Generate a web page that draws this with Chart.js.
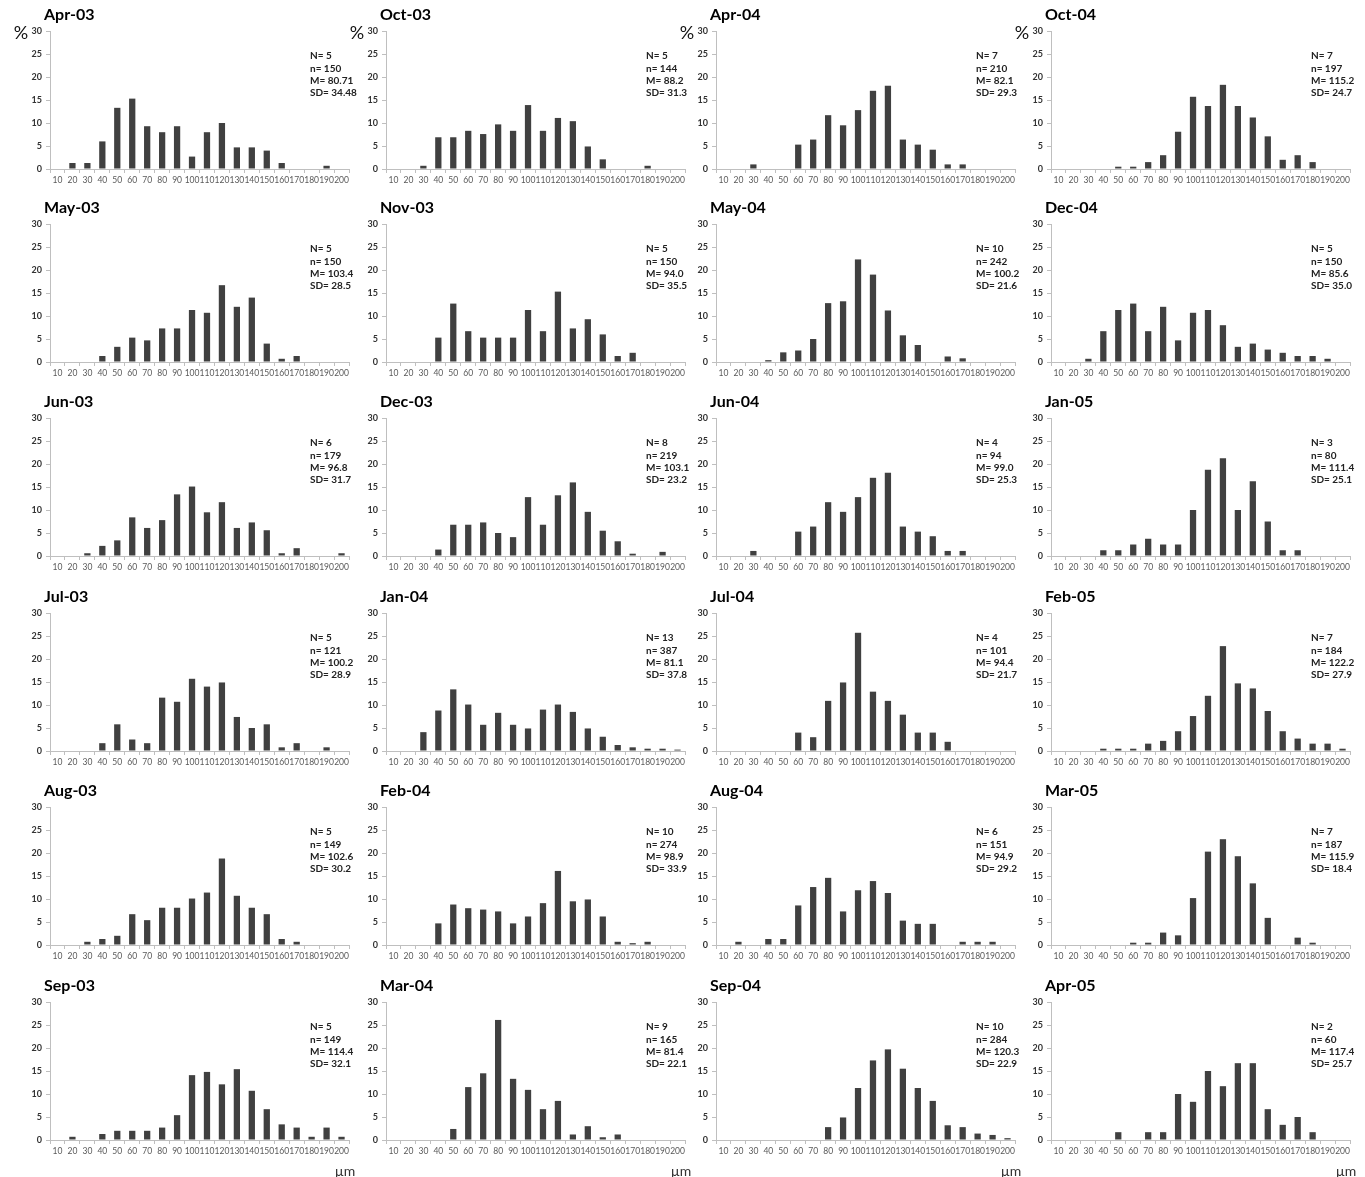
<!DOCTYPE html>
<html>
<head>
<meta charset="utf-8">
<script src="https://cdn.jsdelivr.net/npm/chart.js@4.4.1/dist/chart.umd.min.js"></script>
<style>
  body { margin: 0; background: #fff; width: 1365px; height: 1177px; position: relative; overflow: hidden; font-family: Lato, sans-serif; }
  canvas { position: absolute; }
</style>
</head>
<body>
<script>
// size classes (µm) on the x axis
const sizeBins = ['10', '20', '30', '40', '50', '60', '70', '80', '90', '100',
                  '110', '120', '130', '140', '150', '160', '170', '180', '190', '200'];

// percentage of individuals per size class, one array per sampling month
//            10   20   30    40    50    60    70    80    90   100   110   120   130   140   150   160  170  180  190  200
const apr03 = [0, 1.3, 1.3,  6.0, 13.3, 15.3,  9.3,  8.0,  9.3,  2.7,  8.0, 10.0,  4.7,  4.7,  4.0,  1.3,   0,   0, 0.7,   0];
const may03 = [0,   0,   0,  1.3,  3.3,  5.3,  4.7,  7.3,  7.3, 11.3, 10.7, 16.7, 12.0, 14.0,  4.0,  0.7, 1.3,   0,   0,   0];
const jun03 = [0,   0, 0.6,  2.2,  3.4,  8.4,  6.1,  7.8, 13.4, 15.1,  9.5, 11.7,  6.1,  7.3,  5.6,  0.6, 1.7,   0,   0, 0.6];
const jul03 = [0,   0,   0,  1.7,  5.8,  2.5,  1.7, 11.6, 10.7, 15.7, 14.0, 14.9,  7.4,  5.0,  5.8,  0.8, 1.7,   0, 0.8,   0];
const aug03 = [0,   0, 0.7,  1.3,  2.0,  6.7,  5.4,  8.1,  8.1, 10.1, 11.4, 18.8, 10.7,  8.1,  6.7,  1.3, 0.7,   0,   0,   0];
const sep03 = [0, 0.7,   0,  1.3,  2.0,  2.0,  2.0,  2.7,  5.4, 14.1, 14.8, 12.1, 15.4, 10.7,  6.7,  3.4, 2.7, 0.7, 2.7, 0.7];
const oct03 = [0,   0, 0.7,  6.9,  6.9,  8.3,  7.6,  9.7,  8.3, 13.9,  8.3, 11.1, 10.4,  4.9,  2.1,    0,   0, 0.7,   0,   0];
const nov03 = [0,   0,   0,  5.3, 12.7,  6.7,  5.3,  5.3,  5.3, 11.3,  6.7, 15.3,  7.3,  9.3,  6.0,  1.3, 2.0,   0,   0,   0];
const dec03 = [0,   0,   0,  1.4,  6.8,  6.8,  7.3,  5.0,  4.1, 12.8,  6.8, 13.2, 16.0,  9.6,  5.5,  3.2, 0.5,   0, 0.9,   0];
const jan04 = [0,   0, 4.1,  8.8, 13.4, 10.1,  5.7,  8.3,  5.7,  4.9,  9.0, 10.1,  8.5,  4.9,  3.1,  1.3, 0.8, 0.5, 0.5, 0.3];
const feb04 = [0,   0,   0,  4.7,  8.8,  8.0,  7.7,  7.3,  4.7,  6.2,  9.1, 16.1,  9.5,  9.9,  6.2,  0.7, 0.4, 0.7,   0,   0];
const mar04 = [0,   0,   0,    0,  2.4, 11.5, 14.5, 26.1, 13.3, 10.9,  6.7,  8.5,  1.2,  3.0,  0.6,  1.2,   0,   0,   0,   0];
const apr04 = [0,   0, 1.0,    0,    0,  5.3,  6.4, 11.7,  9.5, 12.8, 17.0, 18.1,  6.4,  5.3,  4.2,  1.0, 1.0,   0,   0,   0];
const may04 = [0,   0,   0,  0.4,  2.1,  2.5,  5.0, 12.8, 13.2, 22.3, 19.0, 11.2,  5.8,  3.7,    0,  1.2, 0.8,   0,   0,   0];
const jun04 = [0,   0, 1.1,    0,    0,  5.3,  6.4, 11.7,  9.6, 12.8, 17.0, 18.1,  6.4,  5.3,  4.3,  1.1, 1.1,   0,   0,   0];
const jul04 = [0,   0,   0,    0,    0,  4.0,  3.0, 10.9, 14.9, 25.7, 12.9, 10.9,  7.9,  4.0,  4.0,  2.0,   0,   0,   0,   0];
const aug04 = [0, 0.7,   0,  1.3,  1.3,  8.6, 12.6, 14.6,  7.3, 11.9, 13.9, 11.3,  5.3,  4.6,  4.6,    0, 0.7, 0.7, 0.7,   0];
const sep04 = [0,   0,   0,    0,    0,    0,    0,  2.8,  4.9, 11.3, 17.3, 19.7, 15.5, 11.3,  8.5,  3.2, 2.8, 1.4, 1.1, 0.4];
const oct04 = [0,   0,   0,    0,  0.5,  0.5,  1.5,  3.0,  8.1, 15.7, 13.7, 18.3, 13.7, 11.2,  7.1,  2.0, 3.0, 1.5,   0,   0];
const dec04 = [0,   0, 0.7,  6.7, 11.3, 12.7,  6.7, 12.0,  4.7, 10.7, 11.3,  8.0,  3.3,  4.0,  2.7,  2.0, 1.3, 1.3, 0.7,   0];
const jan05 = [0,   0,   0, 1.25, 1.25,  2.5, 3.75,  2.5,  2.5, 10.0, 18.75, 21.25, 10.0, 16.25, 7.5, 1.25, 1.25, 0,  0,   0];
const feb05 = [0,   0,   0,  0.5,  0.5,  0.5,  1.6,  2.2,  4.3,  7.6, 12.0, 22.8, 14.7, 13.6,  8.7,  4.3, 2.7, 1.6, 1.6, 0.5];
const mar05 = [0,   0,   0,    0,    0,  0.5,  0.5,  2.7,  2.1, 10.2, 20.3, 23.0, 19.3, 13.4,  5.9,    0, 1.6, 0.5,   0,   0];
const apr05 = [0,   0,   0,    0,  1.7,    0,  1.7,  1.7, 10.0,  8.3, 15.0, 11.7, 16.7, 16.7,  6.7,  3.3, 5.0, 1.7,   0,   0];

// panel order: down each column, then across
const months = ['Apr-03', 'May-03', 'Jun-03', 'Jul-03', 'Aug-03', 'Sep-03',
                'Oct-03', 'Nov-03', 'Dec-03', 'Jan-04', 'Feb-04', 'Mar-04',
                'Apr-04', 'May-04', 'Jun-04', 'Jul-04', 'Aug-04', 'Sep-04',
                'Oct-04', 'Dec-04', 'Jan-05', 'Feb-05', 'Mar-05', 'Apr-05'];
const monthValues = [apr03, may03, jun03, jul03, aug03, sep03,
                     oct03, nov03, dec03, jan04, feb04, mar04,
                     apr04, may04, jun04, jul04, aug04, sep04,
                     oct04, dec04, jan05, feb05, mar05, apr05];
const statN  = ['5', '5', '6', '5', '5', '5',  '5', '5', '8', '13', '10', '9',
                '7', '10', '4', '4', '6', '10',  '7', '5', '3', '7', '7', '2'];
const statSmallN = ['150', '150', '179', '121', '149', '149',  '144', '150', '219', '387', '274', '165',
                    '210', '242', '94', '101', '151', '284',  '197', '150', '80', '184', '187', '60'];
const statMean = ['80.71', '103.4', '96.8', '100.2', '102.6', '114.4',  '88.2', '94.0', '103.1', '81.1', '98.9', '81.4',
                  '82.1', '100.2', '99.0', '94.4', '94.9', '120.3',  '115.2', '85.6', '111.4', '122.2', '115.9', '117.4'];
const statSD = ['34.48', '28.5', '31.7', '28.9', '30.2', '32.1',  '31.3', '35.5', '23.2', '37.8', '33.9', '22.1',
                '29.3', '21.6', '25.3', '21.7', '29.2', '22.9',  '24.7', '35.0', '25.1', '27.9', '18.4', '25.7'];

// grid placement of plot areas
const colLeft = [50, 386, 716, 1051];
const rowTop = [31, 224, 418, 613, 807, 1002];
const plotW = 299, plotH = 138;
const padL = 30, yAxisW = 20, padT = 30, padR = 8, xAxisH = 20, padB = 22;

const FONT = 'Lato, "Open Sans", sans-serif';

// titles, stats block, "%" and "µm" labels drawn next to the plot area
const panelText = {
    id: 'panelText',
    afterDraw(chart, args, opts) {
        const { ctx, chartArea } = chart;
        ctx.save();
        ctx.textBaseline = 'middle';
        ctx.textAlign = 'left';
        ctx.fillStyle = '#000';
        ctx.font = 'bold 16px ' + FONT;
        ctx.fillText(opts.title, chartArea.left - 6, chartArea.top - 16);

        ctx.font = 'bold 10px ' + FONT;
        ctx.fillStyle = '#222';
        opts.lines.forEach((t, i) => {
            ctx.fillText(t, chartArea.right - 39, chartArea.top + 25 + i * 12.4);
        });

        ctx.textAlign = 'center';
        if (opts.pct) {
            ctx.font = '18px ' + FONT;
            ctx.fillStyle = '#111';
            ctx.fillText('%', chartArea.left - 29, chartArea.top + 2);
        }
        if (opts.unit) {
            ctx.font = '14px ' + FONT;
            ctx.fillStyle = '#333';
            ctx.fillText('µm', chartArea.right - 4, chartArea.bottom + 31);
        }
        ctx.restore();
    }
};

months.forEach((month, i) => {
    const col = Math.floor(i / 6);
    const row = i % 6;
    const cv = document.createElement('canvas');
    cv.width = padL + yAxisW + plotW + padR;
    cv.height = padT + plotH + xAxisH + padB;
    cv.style.left = (colLeft[col] - padL - yAxisW) + 'px';
    cv.style.top = (rowTop[row] - padT) + 'px';
    document.body.appendChild(cv);

    new Chart(cv, {
        type: 'bar',
        data: {
            labels: sizeBins,
            datasets: [{
                data: monthValues[i],
                backgroundColor: '#404040',
                borderWidth: 0,
                categoryPercentage: 0.42,
                barPercentage: 1
            }]
        },
        options: {
            responsive: false,
            animation: false,
            layout: { padding: { left: padL, top: padT, right: padR, bottom: padB } },
            plugins: {
                legend: { display: false },
                tooltip: { enabled: false },
                panelText: {
                    title: month,
                    lines: ['N= ' + statN[i], 'n= ' + statSmallN[i], 'M= ' + statMean[i], 'SD= ' + statSD[i]],
                    pct: row === 0,
                    unit: row === 5
                }
            },
            scales: {
                x: {
                    grid: { drawOnChartArea: false, tickLength: 4, color: '#bfbfbf' },
                    border: { color: '#bfbfbf' },
                    ticks: { font: { family: FONT, size: 8.5 }, color: '#595959', maxRotation: 0, minRotation: 0, autoSkip: false, padding: 2 },
                    afterFit: s => { s.height = xAxisH; }
                },
                y: {
                    min: 0,
                    max: 30,
                    grid: { drawOnChartArea: false, tickLength: 4, color: '#bfbfbf' },
                    border: { color: '#bfbfbf' },
                    ticks: { stepSize: 5, font: { family: FONT, size: 9, weight: 'bold' }, color: '#333', padding: 4 },
                    afterFit: s => { s.width = yAxisW; }
                }
            }
        },
        plugins: [panelText]
    });
});
</script>
</body>
</html>
